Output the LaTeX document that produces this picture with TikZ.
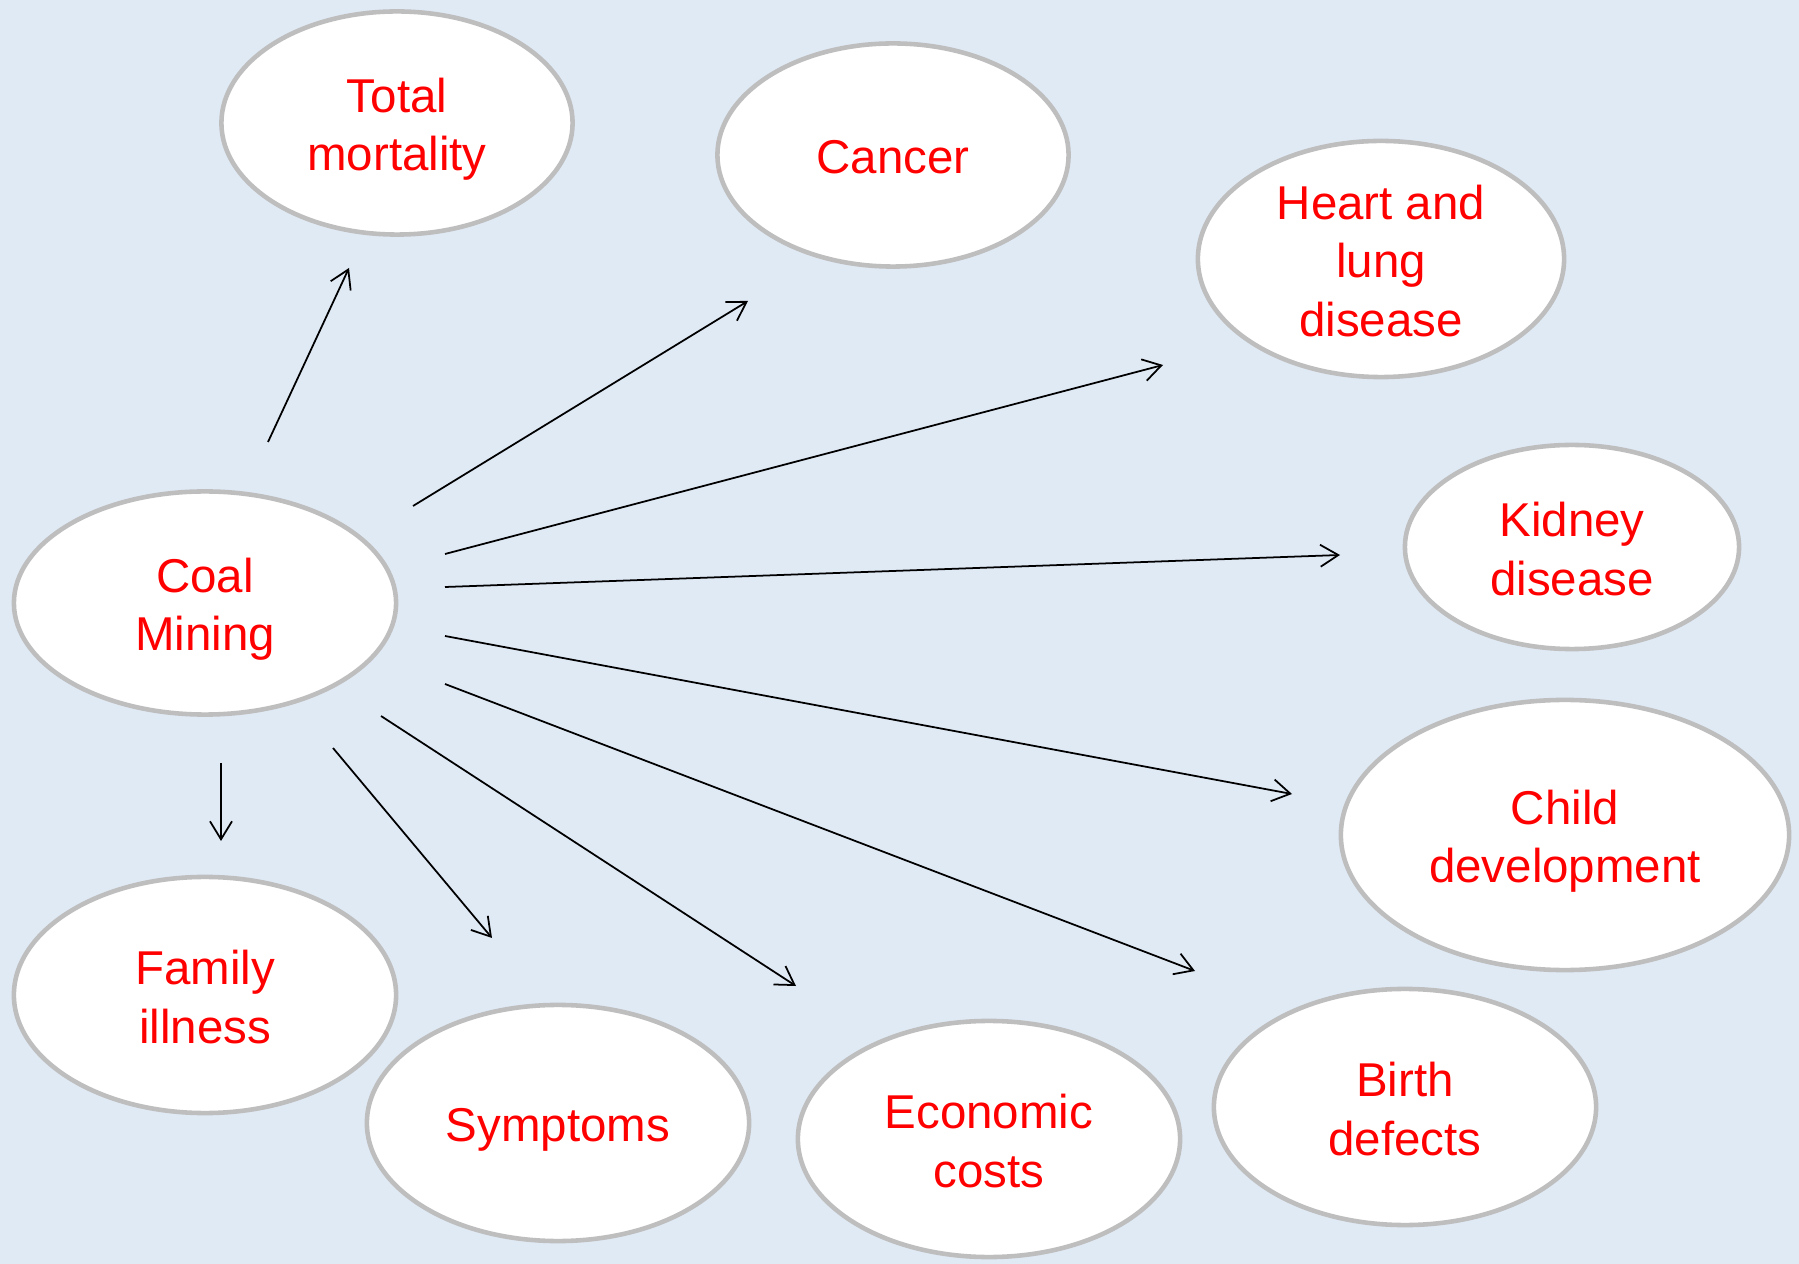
\documentclass[tikz,border=0pt]{standalone}
\usepackage{fontspec}
\setmainfont{Liberation Sans}
\usetikzlibrary{shapes.geometric, arrows.meta}
\definecolor{slidebg}{RGB}{224,234,245}
\definecolor{rimgray}{RGB}{190,190,190}
\newcommand{\linestrut}{\rule[-2.7pt]{0pt}{16.2pt}}
\tikzstyle{outcome} = [ellipse, draw=rimgray, line width=1.3pt, fill=white, text=red, align=center, inner sep=0pt, minimum width=3.82cm, minimum height=2.36cm, font=\fontsize{13.5}{16.5}\selectfont, execute at end node=\linestrut]
\tikzstyle{arrow} = [line width=0.5pt, -{Straight Barb[length=1.8mm,width=2.2mm]}]

\begin{document}
\begin{tikzpicture}[x=0.01cm, y=-0.01cm]
\fill [slidebg] (0,0) rectangle (1799,1264);
\useasboundingbox (0,0) rectangle (1799,1264);
% Source
\node (coal) [outcome, minimum height=2.23cm] at (205,603) {\linestrut Coal\\Mining};
% Top row
\node (mort) [outcome, minimum width=3.51cm, minimum height=2.23cm] at (397,123) {\linestrut Total\\mortality};
\node (cancer) [outcome, minimum width=3.51cm, minimum height=2.23cm] at (893,155) {\linestrut Cancer};
\node (heart) [outcome, minimum width=3.66cm, inner ysep=-2pt] at (1381,259) {\linestrut Heart and\\lung\\disease};
% Right side
\node (kidney) [outcome, minimum width=3.34cm, minimum height=2.04cm] at (1572,547) {\linestrut Kidney\\disease};
\node (child) [outcome, minimum width=4.48cm, minimum height=2.70cm] at (1565,835) {\linestrut Child\\development};
% Bottom row
\node (birth) [outcome] at (1405,1107) {\linestrut Birth\\defects};
\node (econ) [outcome] at (989,1139) {\linestrut Economic\\costs};
\node (sympt) [outcome] at (558,1123) {\linestrut Symptoms};
\node (family) [outcome] at (205,995) {\linestrut Family\\illness};

% Arrow ends
\coordinate (c2mort) at (268,442);   \coordinate (mortin) at (349,268);
\coordinate (c2cancer) at (413,506); \coordinate (cancerin) at (748,301);
\coordinate (c2heart) at (445,554);  \coordinate (heartin) at (1163,365);
\coordinate (c2kidney) at (445,587); \coordinate (kidneyin) at (1340,555);
\coordinate (c2child) at (445,636);  \coordinate (childin) at (1292,794);
\coordinate (c2birth) at (445,684);  \coordinate (birthin) at (1195,971);
\coordinate (c2econ) at (381,716);   \coordinate (econin) at (796,986);
\coordinate (c2sympt) at (333,748);  \coordinate (symptin) at (492,938);
\coordinate (c2family) at (221,763); \coordinate (familyin) at (221,841);

% Arrows
\draw [arrow] (c2mort) -- (mortin);
\draw [arrow] (c2cancer) -- (cancerin);
\draw [arrow] (c2heart) -- (heartin);
\draw [arrow] (c2kidney) -- (kidneyin);
\draw [arrow] (c2child) -- (childin);
\draw [arrow] (c2birth) -- (birthin);
\draw [arrow] (c2econ) -- (econin);
\draw [arrow] (c2sympt) -- (symptin);
\draw [arrow] (c2family) -- (familyin);
\end{tikzpicture}
\end{document}
